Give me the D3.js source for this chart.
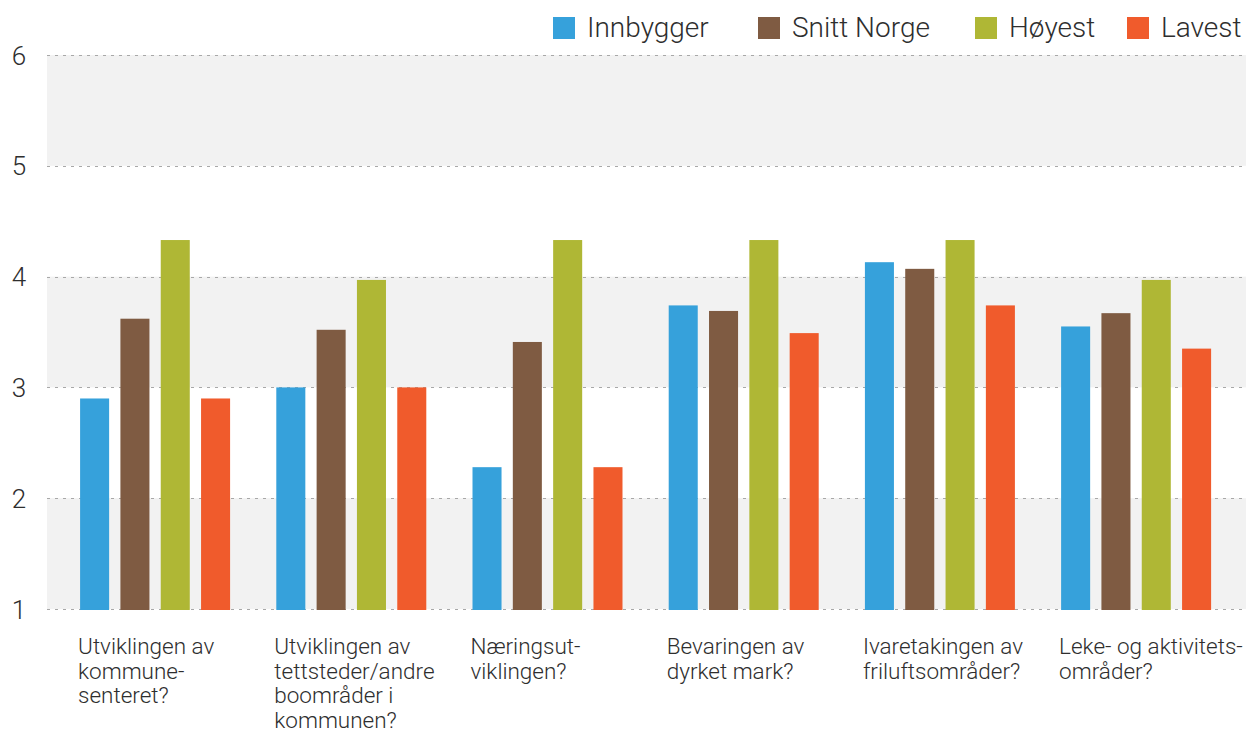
<!DOCTYPE html>
<html>
<head>
<meta charset="utf-8">
<script src="https://cdn.jsdelivr.net/npm/d3@7"></script>
<style>
  html, body { margin: 0; padding: 0; background: #ffffff; }
  svg { display: block; }
  text { font-family: Roboto, "Open Sans", "DejaVu Sans", sans-serif; fill: #2e2e2e; }
</style>
</head>
<body>
<svg id="chart" width="1251" height="733"></svg>
<script>
// ---- data ----
const categories = [
  "Utviklingen av\nkommune-\nsenteret?",
  "Utviklingen av\ntettsteder/andre\nboområder i\nkommunen?",
  "Næringsut-\nviklingen?",
  "Bevaringen av\ndyrket mark?",
  "Ivaretakingen av\nfriluftsområder?",
  "Leke- og aktivitets-\nområder?"
];
const seriesNames = ["Innbygger", "Snitt Norge", "Høyest", "Lavest"];
const innbygger  = [2.90, 3.00, 2.28, 3.74, 4.13, 3.55];
const snittNorge = [3.62, 3.52, 3.41, 3.69, 4.07, 3.67];
const hoyest     = [4.33, 3.97, 4.33, 4.33, 4.33, 3.97];
const lavest     = [2.90, 3.00, 2.28, 3.49, 3.74, 3.35];
const seriesColors = ["#36a1db", "#7f5b42", "#afb735", "#f05b2c"];
const yTicks = [1, 2, 3, 4, 5, 6];

const seriesValues = [innbygger, snittNorge, hoyest, lavest];

// ---- layout ----
const svg = d3.select("#chart");
const plotLeft = 47, plotRight = 1246;

const y = d3.scaleLinear().domain([1, 6]).range([609, 55]);

const x0 = d3.scaleBand()
  .domain(categories)
  .range([57, 57 + 6 * 196.2])
  .paddingInner(0.2355)
  .paddingOuter(0.1177);

const x1 = d3.scaleBand()
  .domain(seriesNames)
  .range([0, x0.bandwidth()])
  .paddingInner(0.28)
  .paddingOuter(0);

const color = d3.scaleOrdinal().domain(seriesNames).range(seriesColors);

// alternating background bands
svg.append("g").selectAll("rect")
  .data(yTicks.filter((t, i) => i % 2 === 0 && t < 6))
  .join("rect")
  .attr("x", plotLeft)
  .attr("width", plotRight - plotLeft)
  .attr("y", d => y(d + 1))
  .attr("height", d => y(d) - y(d + 1))
  .attr("fill", "#f2f2f2");

// gridlines
svg.append("g").selectAll("line")
  .data(yTicks)
  .join("line")
  .attr("x1", plotLeft)
  .attr("x2", plotRight)
  .attr("y1", d => Math.round(y(d)) + 0.5)
  .attr("y2", d => Math.round(y(d)) + 0.5)
  .attr("stroke", "#a8a8a8")
  .attr("stroke-width", 1)
  .attr("stroke-dasharray", "3,5");

// y axis labels
const yAxis = d3.axisLeft(y).tickValues(yTicks).tickSize(0).tickPadding(0).tickFormat(d3.format("d"));
const yg = svg.append("g").attr("transform", "translate(19,0)").call(yAxis);
yg.select(".domain").remove();
yg.selectAll("text")
  .attr("text-anchor", "middle")
  .attr("x", 0)
  .attr("dy", "0.35em")
  .style("font-size", "26px")
  .style("font-weight", "300")
  .style("fill", "#2e2e2e");

// bars
const groups = svg.append("g").selectAll("g")
  .data(categories)
  .join("g")
  .attr("transform", d => `translate(${x0(d)},0)`);

groups.selectAll("rect")
  .data((d, i) => seriesNames.map((s, j) => ({ s, v: seriesValues[j][i] })))
  .join("rect")
  .attr("x", d => x1(d.s))
  .attr("width", x1.bandwidth())
  .attr("y", d => y(d.v))
  .attr("height", d => y(1) + 1 - y(d.v))
  .attr("fill", d => color(d.s));

// category labels
const labels = svg.append("g").selectAll("text")
  .data(categories)
  .join("text")
  .attr("x", d => x0(d) - 2)
  .attr("y", 654)
  .style("font-size", "22.5px")
  .style("font-weight", "300");
labels.selectAll("tspan")
  .data(d => d.split("\n"))
  .join("tspan")
  .attr("x", function() { return d3.select(this.parentNode).attr("x"); })
  .attr("dy", (d, i) => i === 0 ? 0 : 24.5)
  .text(d => d);

// legend
const legendX = [553, 758, 975, 1127];
const legend = svg.append("g").selectAll("g")
  .data(seriesNames)
  .join("g")
  .attr("transform", (d, i) => `translate(${legendX[i]},17)`);
legend.append("rect")
  .attr("width", 22).attr("height", 22)
  .attr("fill", d => color(d));
legend.append("text")
  .attr("x", 34).attr("y", 20)
  .style("font-size", "28px")
  .style("font-weight", "300")
  .text(d => d);
</script>
</body>
</html>
